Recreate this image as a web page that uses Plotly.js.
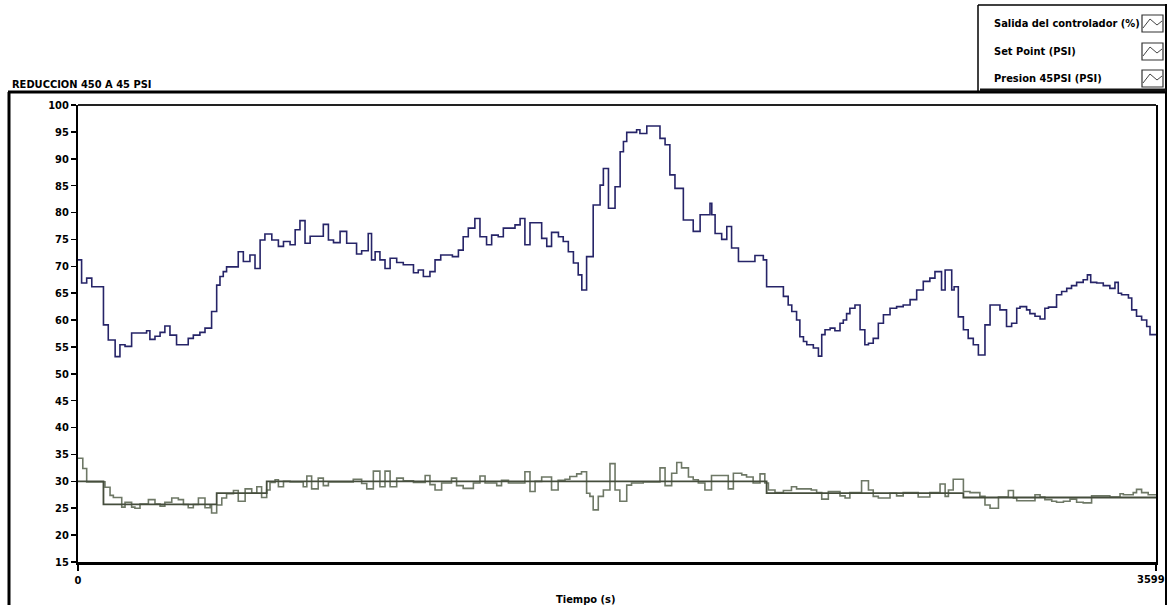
<!DOCTYPE html>
<html>
<head>
<meta charset="utf-8">
<script src="https://cdn.plot.ly/plotly-3.0.1.min.js"></script>
<style>
html,body{margin:0;padding:0;background:#fff;}
#chart{width:1169px;height:605px;}
</style>
</head>
<body>
<div id="chart"></div>
<script>
// ---- data ----
const chartTitle = "REDUCCION 450 A 45 PSI";
const seriesNames = ["Salida del controlador (%)", "Set Point (PSI)", "Presion 45PSI (PSI)"];
const xTickVals = [0, 3599];
const xTickText = ["0", "3599"];
const xAxisTitle = "Tiempo (s)";

const salidaT = [0,12,29,46,85,101,124,140,157,179,229,240,257,274,290,307,329,368,385,407,424,446,463,474,485,496,535,552,574,591,608,624,647,669,686,708,725,741,758,775,819,836,853,875,897,930,947,969,980,992,1008,1025,1042,1064,1086,1120,1136,1153,1175,1192,1211,1250,1270,1286,1303,1325,1342,1364,1381,1403,1420,1459,1476,1492,1509,1548,1565,1581,1604,1620,1637,1654,1670,1682,1698,1720,1743,1754,1771,1793,1810,1821,1832,1865,1876,1899,1943,1960,1976,1993,2021,2054,2077,2110,2116,2127,2149,2166,2182,2205,2260,2288,2299,2355,2371,2383,2399,2410,2422,2433,2455,2472,2483,2494,2511,2527,2544,2555,2566,2577,2594,2611,2627,2639,2655,2672,2689,2711,2733,2755,2778,2800,2822,2844,2861,2883,2895,2917,2925,2939,2956,2972,2989,3006,3028,3045,3078,3100,3117,3134,3145,3167,3178,3195,3212,3228,3240,3267,3284,3301,3317,3334,3356,3370,3381,3401,3423,3445,3462,3473,3484,3507,3518,3534,3551,3568,3579,3599];
const salidaV = [71.2,66.9,67.8,66.2,59.1,56.3,53.2,55.4,55.1,57.6,58.0,56.4,57.0,57.7,58.9,57.2,55.4,56.6,57.2,57.7,58.5,61.6,66.5,68.1,69.0,69.9,72.7,70.9,72.1,69.6,74.9,76.0,74.9,73.7,74.6,74.0,76.8,78.5,74.3,75.6,77.8,74.9,74.4,76.5,74.3,72.3,72.9,76.1,71.2,72.7,71.2,69.6,71.5,70.7,70.3,68.8,69.3,68.1,69.0,71.2,72.1,71.8,73.0,75.5,77.1,78.9,75.5,74.0,75.8,75.5,77.1,77.7,78.9,74.0,78.1,75.2,73.7,76.3,75.5,74.6,72.7,70.6,68.4,65.6,71.8,81.4,85.1,88.2,80.8,84.8,91.3,93.2,94.9,95.4,94.7,96.1,93.8,92.6,87.0,84.5,78.6,76.5,79.6,81.7,79.6,76.1,75.0,77.4,73.4,70.9,72.0,71.2,66.2,64.4,62.8,61.6,60.0,56.9,56.0,55.4,54.8,53.3,57.3,58.2,58.5,58.0,59.4,60.0,61.2,62.2,62.8,58.2,55.4,55.7,56.6,59.4,61.0,62.2,62.5,62.8,63.8,65.6,67.2,67.8,69.0,65.6,69.3,65.6,66.2,60.6,58.2,56.6,55.4,53.5,59.1,62.8,61.9,58.8,59.4,62.2,62.5,61.9,61.2,60.7,60.2,62.2,62.4,64.7,65.3,65.9,66.4,67.0,67.5,68.4,67.0,66.9,66.4,65.9,67.0,65.0,64.7,64.1,61.9,60.7,60.0,58.8,57.3,57.3];

const setPointT = [0,85,463,630,2299,2956,3599];
const setPointV = [30.0,25.7,27.8,30.0,27.8,27.0,27.0];

const presionT = [0,16,29,90,107,118,146,157,179,190,207,235,257,274,290,313,335,352,368,385,402,424,441,446,463,480,496,519,535,558,580,597,613,630,641,658,669,686,708,752,764,780,802,819,836,919,947,964,986,1008,1025,1042,1064,1086,1120,1159,1175,1192,1214,1247,1264,1286,1320,1342,1359,1398,1414,1437,1492,1509,1526,1548,1581,1603,1626,1642,1665,1681,1698,1709,1720,1737,1754,1776,1793,1809,1832,1848,1887,1943,1960,1982,1999,2015,2038,2054,2071,2093,2115,2171,2188,2216,2232,2254,2277,2293,2305,2327,2355,2382,2399,2448,2466,2483,2505,2544,2561,2577,2616,2639,2655,2672,2711,2733,2755,2805,2844,2878,2895,2906,2922,2956,2978,3011,3028,3045,3073,3106,3123,3134,3195,3212,3228,3251,3267,3290,3312,3334,3356,3384,3445,3479,3490,3523,3534,3551,3573,3599];
const presionV = [34.3,32.4,29.9,28.9,27.4,27.0,25.2,26.1,25.2,25.0,25.8,26.6,25.8,25.4,26.1,26.9,26.6,25.7,25.1,25.7,26.9,25.1,25.6,24.1,25.6,26.9,27.7,28.3,26.3,28.6,27.8,29.0,27.0,28.4,29.8,30.3,29.0,30.0,29.9,29.0,31.0,28.6,30.6,29.2,29.9,30.4,29.6,28.6,31.9,29.0,31.9,29.0,30.6,30.1,29.8,31.1,29.4,28.4,29.7,30.6,29.2,28.7,29.7,31.0,29.7,29.2,30.2,29.7,31.8,28.1,30.0,30.8,28.4,30.2,30.4,30.9,31.4,31.8,27.8,27.2,24.7,27.2,28.4,33.3,28.4,26.3,29.3,29.7,29.9,32.5,29.2,31.5,33.5,32.5,30.8,30.3,29.7,28.4,31.1,28.6,31.5,31.2,30.8,29.7,31.4,29.7,28.4,27.9,28.3,29.0,28.6,28.4,27.9,26.7,28.1,27.3,26.9,27.9,30.1,28.4,27.2,26.9,27.8,27.3,27.9,27.1,27.9,29.5,27.2,28.4,30.4,28.1,27.9,27.2,25.6,25.0,27.1,28.3,26.9,26.4,27.5,27.1,26.6,26.3,26.1,26.3,26.7,26.1,26.0,27.3,27.1,27.7,27.5,27.9,28.5,27.9,27.5,27.5];

// ---- layout helpers (pixel -> paper) ----
const L = 78, R = 1156, T = 105, B = 562;
const X = px => (px - L) / (R - L);
const Y = py => (B - py) / (B - T);
const FONT = "DejaVu Sans Condensed, DejaVu Sans, sans-serif";
const tf = (size) => ({family: FONT, size: size, color: "#000", weight: "bold", stretch: "condensed"});

const traces = [
  {x: presionT, y: presionV, name: seriesNames[2], mode: "lines",
   line: {shape: "hv", color: "#6e7866", width: 1.6}},
  {x: setPointT, y: setPointV, name: seriesNames[1], mode: "lines",
   line: {shape: "hv", color: "#454d3c", width: 1.8}},
  {x: salidaT, y: salidaV, name: seriesNames[0], mode: "lines",
   line: {shape: "hv", color: "#262468", width: 1.6}}
];

const shapes = [];
const line = (x0,y0,x1,y1,w,c,layer) => shapes.push({type:"line", xref:"paper", yref:"paper", layer: layer || "above",
  x0:X(x0), y0:Y(y0), x1:X(x1), y1:Y(y1), line:{color:c||"#000", width:w}});
// outer frame
line(8, 92, 1166, 92, 3);
line(9, 92, 9, 606, 3, "#000", "below");
line(1166, 4, 1166, 606, 2, "#000", "below");
// plot top border
line(L, T, R, T, 2, "#222");
// legend box
line(978, 5, 1166, 5, 1.5);
line(978, 5, 978, 92, 1.5);
line(980, 90, 1166, 90, 3, "#111");
// legend icons
const iconRows = [[15, 32], [43, 60], [70, 87]];
iconRows.forEach(r => {
  shapes.push({type:"rect", xref:"paper", yref:"paper", x0:X(1142), x1:X(1163), y0:Y(r[1]), y1:Y(r[0]),
    line:{color:"#333", width:1.2}, fillcolor:"rgba(0,0,0,0)"});
  const ym = r[0] + 4, yb = r[1] - 4;
  shapes.push({type:"path", xref:"paper", yref:"paper",
    path:`M ${X(1143)},${Y(yb)} L ${X(1150)},${Y(ym)} L ${X(1157)},${Y(yb-3)} L ${X(1162)},${Y(ym+2)}`,
    line:{color:"#444", width:1}});
});

const lastIdx = xTickText.length - 1;
const annotations = [
  {text:"<b>"+chartTitle+"</b>", xref:"paper", yref:"paper", x:X(10), y:Y(84), xanchor:"left", yanchor:"middle",
   showarrow:false, font:tf(11)},
  {text:"<b>"+xAxisTitle+"</b>", xref:"paper", yref:"paper", x:X(585), y:Y(599), xanchor:"center", yanchor:"middle",
   showarrow:false, font:tf(11)},
  // last x tick label, kept inside the frame as in the reference
  {text:"<b>"+xTickText[lastIdx]+"</b>", xref:"x", yref:"paper", x:xTickVals[lastIdx], y:Y(579),
   xanchor:"right", xshift:11, yanchor:"middle", showarrow:false, font:tf(11)}
];
seriesNames.forEach((n, i) => {
  const r = iconRows[i];
  annotations.push({text:"<b>"+n+"</b>", xref:"paper", yref:"paper", x:X(992), y:Y((r[0]+r[1])/2),
    xanchor:"left", yanchor:"middle", showarrow:false, font:tf(11)});
});

const layout = {
  width: 1169, height: 605,
  margin: {l: L, r: 1169 - R, t: T, b: 605 - B, pad: 0},
  paper_bgcolor: "#fff", plot_bgcolor: "#fff",
  showlegend: false,
  xaxis: {range: [-0.01, 3599.01], tickmode: "array", tickvals: xTickVals,
    ticktext: xTickText.map((t, i) => i === lastIdx ? "" : t),
    ticks: "outside", ticklen: 6, tickwidth: 2, tickcolor: "#000", ticklabeloverflow: "allow",
    showline: true, linecolor: "#000", linewidth: 3, showgrid: false, zeroline: false,
    tickfont: tf(11), automargin: false,
    minor: {tickmode: "linear", tick0: 0, dtick: 100, ticks: "inside", ticklen: 3, tickcolor: "#fff", tickwidth: 1}},
  yaxis: {range: [15, 100], tickmode: "linear", tick0: 15, dtick: 5,
    ticks: "outside", ticklen: 5, tickwidth: 1.5, tickcolor: "#000",
    showline: true, linecolor: "#000", linewidth: 2, mirror: true, showgrid: false, zeroline: false,
    tickfont: tf(11)},
  shapes: shapes,
  annotations: annotations
};

Plotly.newPlot("chart", traces, layout, {displayModeBar: false, staticPlot: true});
</script>
</body>
</html>
